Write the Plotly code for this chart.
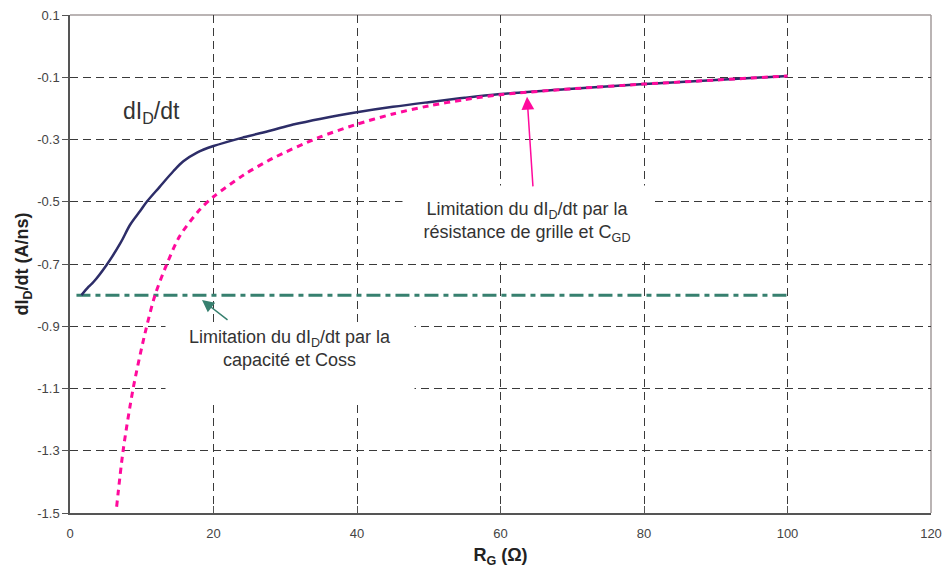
import plotly.graph_objects as go

# ---- data ----
rg_solid = [1.6, 2.6, 3.3, 5.1, 7.0, 8.4, 9.8, 10.7, 12.5, 14.4, 15.8, 17.7, 20, 24.2, 28, 31.1, 35, 40.4, 45, 50, 55, 60, 70, 80, 90, 100]
didt_solid = [-0.80, -0.773, -0.757, -0.703, -0.634, -0.573, -0.529, -0.50, -0.452, -0.402, -0.370, -0.342, -0.321, -0.293, -0.271, -0.252, -0.233, -0.211, -0.195, -0.18, -0.166, -0.154, -0.137, -0.122, -0.109, -0.096]

rg_rc = [6.5, 7.4, 8.8, 10.45, 11.85, 13.5, 15.3, 18.1, 20, 24.2, 28.3, 34.4, 39.7, 45, 50, 55, 60, 70, 80, 90, 100]
didt_rc = [-1.48, -1.30, -1.10, -0.923, -0.80, -0.70, -0.61, -0.525, -0.484, -0.414, -0.36, -0.296, -0.253, -0.218, -0.192, -0.172, -0.156, -0.137, -0.122, -0.109, -0.096]

rg_coss = [0.9, 100]
didt_coss = [-0.80, -0.80]

x_ticks = [0, 20, 40, 60, 80, 100, 120]
y_ticks = [0.1, -0.1, -0.3, -0.5, -0.7, -0.9, -1.1, -1.3, -1.5]
y_tick_text = ["0.1", "-0.1", "-0.3", "-0.5", "-0.7", "-0.9", "-1.1", "-1.3", "-1.5"]

NAVY = "#2d2d68"
PINK = "#ff0a9c"
TEAL = "#37806f"
FONT = "Liberation Sans, Arial, sans-serif"

fig = go.Figure()
fig.add_trace(go.Scatter(x=rg_coss, y=didt_coss, mode="lines",
                         line=dict(color=TEAL, width=3, dash="14px,5px,5px,5px"),
                         showlegend=False, hoverinfo="skip"))
fig.add_trace(go.Scatter(x=rg_solid, y=didt_solid, mode="lines",
                         line=dict(color=NAVY, width=2.5, shape="spline", smoothing=1.0),
                         showlegend=False, hoverinfo="skip"))
fig.add_trace(go.Scatter(x=rg_rc, y=didt_rc, mode="lines",
                         line=dict(color=PINK, width=3, dash="6px,5px", shape="spline", smoothing=0.8),
                         showlegend=False, hoverinfo="skip"))

# text boxes (white background hides the grid behind them)
fig.add_annotation(x=63.7, y=-0.565, xref="x", yref="y", showarrow=False,
                   text="Limitation du dI<sub>D</sub>/dt par la<br>résistance de grille et C<sub>GD</sub>",
                   font=dict(family=FONT, size=18, color="#333333"),
                   bgcolor="white", width=246, height=70, align="center")
fig.add_annotation(x=30.66, y=-1.0245, xref="x", yref="y", showarrow=False,
                   text="Limitation du dI<sub>D</sub>/dt par la<br>capacité et Coss",
                   font=dict(family=FONT, size=18, color="#333333"),
                   bgcolor="white", width=246, height=76, valign="top", align="center")
fig.add_annotation(x=11.4, y=-0.212, xref="x", yref="y", showarrow=False,
                   text="dI<sub>D</sub>/dt",
                   font=dict(family=FONT, size=23, color="#333333"))

# arrows
fig.add_annotation(x=63.7, y=-0.163, xref="x", yref="y", text="", showarrow=True,
                   ax=6, ay=91, arrowcolor=PINK, arrowwidth=1.5, arrowhead=2, arrowsize=1.7)
fig.add_annotation(x=18.4, y=-0.816, xref="x", yref="y", text="", showarrow=True,
                   ax=27, ay=21, arrowcolor=TEAL, arrowwidth=1.5, arrowhead=2, arrowsize=1.6)

# top and right borders
fig.add_shape(type="line", xref="x domain", yref="y domain", x0=0, x1=1, y0=1, y1=1,
              line=dict(color="#a39b9b", width=1.5), layer="below")
fig.add_shape(type="line", xref="x domain", yref="y domain", x0=1, x1=1, y0=0, y1=1,
              line=dict(color="#a39b9b", width=1.5), layer="below")

fig.update_layout(
    width=944, height=572,
    margin=dict(l=70, r=13, t=15, b=59),
    paper_bgcolor="white", plot_bgcolor="white",
    font=dict(family=FONT, color="#333333"),
    showlegend=False,
)
fig.update_xaxes(
    range=[0, 120], tickvals=x_ticks, ticktext=[str(v) for v in x_ticks],
    automargin=False, ticklabeloverflow="allow",
    showgrid=True, gridcolor="#3a3a3a", gridwidth=1, griddash="8px,5px",
    zeroline=False, showline=True, linecolor="#555555", linewidth=1.5,
    ticks="inside", ticklen=7, tickcolor="#555555", ticklabelstandoff=8,
    tickfont=dict(family=FONT, size=13, color="#444444"),
    title=dict(text="<b>R<sub>G</sub> (Ω)</b>", font=dict(family=FONT, size=18, color="#222222"), standoff=8),
)
fig.update_yaxes(
    range=[-1.5, 0.1], tickvals=y_ticks, ticktext=y_tick_text,
    automargin=False, ticklabeloverflow="allow",
    showgrid=True, gridcolor="#3a3a3a", gridwidth=1, griddash="8px,5px",
    zeroline=False, showline=True, linecolor="#555555", linewidth=1.5,
    ticks="outside", ticklen=6, tickcolor="#555555",
    tickfont=dict(family=FONT, size=13, color="#444444"),
    title=dict(text="<b>dI<sub>D</sub>/dt (A/ns)</b>", font=dict(family=FONT, size=18, color="#222222"), standoff=4),
)

# remove the browser's default 8px page margin so the figure sits at the page origin
fig.write_html("out.html", config={"displayModeBar": False},
               post_script="document.body.style.margin='0';")
